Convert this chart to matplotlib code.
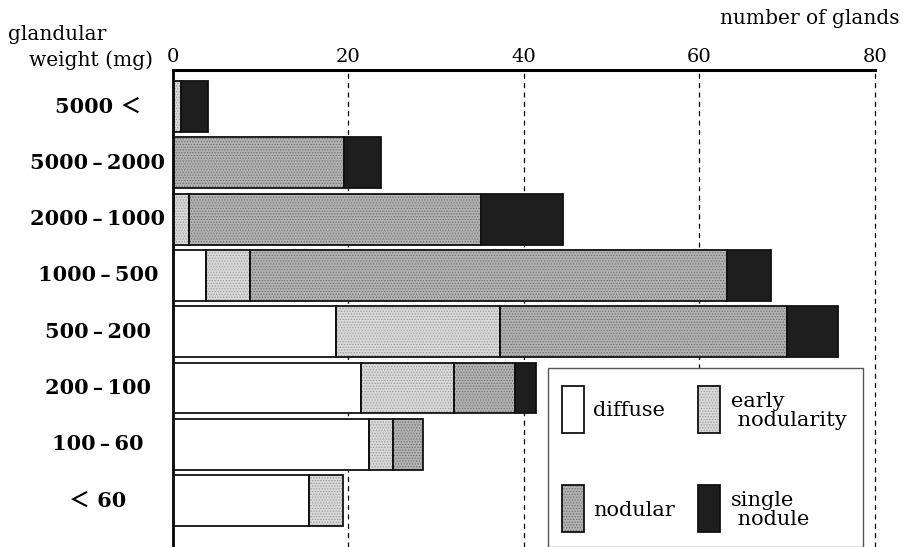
import numpy as np
import matplotlib
matplotlib.use("Agg")
import matplotlib.pyplot as plt
from matplotlib.patches import Rectangle

categories = ["5000 ＜", "5000\u2009–\u20092000", "2000\u2009–\u20091000",
              "1000\u2009–\u2009500", "500\u2009–\u2009200", "200\u2009–\u2009100",
              "100\u2009–\u200960", "＜ 60"]
diffuse = [0, 0, 0, 3.8, 18.6, 21.4, 22.3, 15.5]
early_nodularity = [0.9, 0, 1.8, 5.0, 18.7, 10.6, 2.8, 3.9]
nodular = [0, 19.5, 33.3, 54.3, 32.7, 7.0, 3.4, 0]
single_nodule = [3.1, 4.2, 9.3, 5.1, 5.8, 2.4, 0, 0]
xticks = [0, 20, 40, 60, 80]
series_names = ["diffuse", "early\n nodularity", "nodular", "single\n nodule"]

FONT = ["DejaVu Serif", "Noto Sans CJK JP", "DejaVu Sans"]
plt.rcParams["font.family"] = FONT
plt.rcParams["hatch.linewidth"] = 0.6

W, H = 904, 547
fig = plt.figure(figsize=(W / 100, H / 100), dpi=100)

def fx(x):
    return x / W

def fy(y):
    return 1 - y / H

ax = fig.add_axes([fx(173), 0, fx(875) - fx(173), fy(70)])

colors = ["white", "#d9d9d9", "#b3b3b3", "#1e1e1e"]
hatches = [None, "......", "......", None]
hatch_cols = ["white", "#9a9a9a", "#6e6e6e", "#1e1e1e"]
series = [diffuse, early_nodularity, nodular, single_nodule]
y = np.arange(len(categories))
left = np.zeros(len(categories))
bh = 0.9
for vals, fc, hc, ht in zip(series, colors, hatch_cols, hatches):
    v = np.array(vals, dtype=float)
    mask = v > 0
    if ht:
        ax.barh(y[mask], v[mask], left=left[mask], height=bh, color=fc,
                edgecolor=hc, hatch=ht, linewidth=0, zorder=2)
    else:
        ax.barh(y[mask], v[mask], left=left[mask], height=bh, color=fc,
                linewidth=0, zorder=2)
    ax.barh(y[mask], v[mask], left=left[mask], height=bh, color="none",
            edgecolor="#111111", linewidth=1.3, zorder=3)
    left += v

ax.set_xlim(0, 80)
ax.set_ylim(7.82, -0.648)
ax.xaxis.tick_top()
ax.set_xticks(xticks)
ax.set_xticklabels([str(t) for t in xticks], fontsize=14)
ax.tick_params(axis="x", length=0, pad=3)
ax.set_yticks([])
for t in xticks[1:]:
    ax.axvline(t, color="black", linestyle=(0, (4, 3.5)), linewidth=0.9,
               zorder=1, clip_on=False)
for s in ["right", "bottom"]:
    ax.spines[s].set_visible(False)
ax.spines["top"].set_linewidth(2.2)
ax.spines["left"].set_linewidth(2.0)

# category labels
for i, c in enumerate(categories):
    ax.text(-0.107, i, c, transform=ax.get_yaxis_transform(), ha="center",
            va="center", fontsize=15, fontweight="bold", family=FONT)

fig.text(fx(8), fy(34), "glandular", fontsize=14.5, ha="left", va="center")
fig.text(fx(29), fy(60), "weight (mg)", fontsize=14.5, ha="left", va="center")
fig.text(fx(900), fy(19), "number of glands", fontsize=14.5, ha="right", va="center")

# legend box
fig.patches.append(Rectangle((fx(548), 0), fx(863) - fx(548), fy(368),
                             transform=fig.transFigure, facecolor="white",
                             edgecolor="#555555", linewidth=1.0, zorder=5))
pos = [(562, 386, 593, 410), (698, 386, 731, 411),
       (562, 485, 593, 510), (698, 485, 731, 510)]
for (px, py, tx, ty), name, fc, hc, ht in zip(pos, series_names, colors,
                                               hatch_cols, hatches):
    if ht:
        fig.patches.append(Rectangle((fx(px), fy(py + 47)), fx(22), 47 / H,
                                     transform=fig.transFigure, facecolor=fc,
                                     edgecolor=hc, hatch=ht, linewidth=0, zorder=6))
    else:
        fig.patches.append(Rectangle((fx(px), fy(py + 47)), fx(22), 47 / H,
                                     transform=fig.transFigure, facecolor=fc,
                                     linewidth=0, zorder=6))
    fig.patches.append(Rectangle((fx(px), fy(py + 47)), fx(22), 47 / H,
                                 transform=fig.transFigure, facecolor="none",
                                 edgecolor="#111111", linewidth=1.3, zorder=7))
    fig.text(fx(tx), fy(ty), name, fontsize=15, ha="left", va="center",
             zorder=8, linespacing=1.05)

fig.savefig("out.png", dpi=100)
